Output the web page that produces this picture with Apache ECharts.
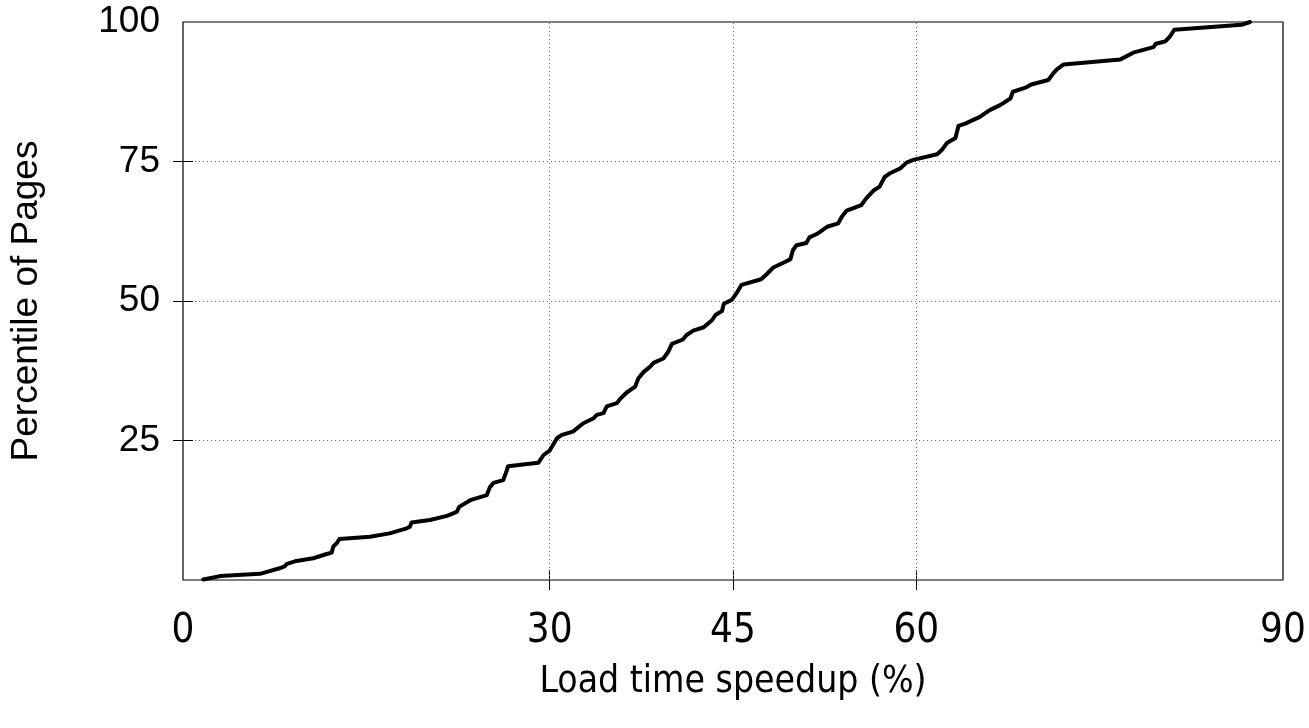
<!DOCTYPE html>
<html>
<head>
<meta charset="utf-8">
<script src="https://cdn.jsdelivr.net/npm/echarts@6/dist/echarts.min.js"></script>
<style>
html,body{margin:0;padding:0;background:#fff;}
#c{width:1309px;height:728px;}
</style>
</head>
<body>
<div id="c"></div>
<script>
// Load time speedup (%) values of the CDF curve
const speedup = [1.66,3.03,6.3,7.9,8.35,8.5,9.16,10.66,11.76,12.16,12.3,12.58,12.8,15.3,16.9,18.3,18.57,18.7,20.2,21.6,22.4,22.6,23.5,24.85,25.1,25.4,26.2,26.5,26.6,29.07,29.5,30.0,30.6,31.0,31.9,32.75,33.6,33.85,34.4,34.67,35.5,35.75,36.3,37.0,37.25,37.7,38.2,38.5,39.3,39.7,40.0,40.9,41.2,41.75,42.6,43.3,43.56,44.1,44.25,44.9,45.35,45.7,47.3,47.75,48.3,49.25,49.7,49.9,50.2,51.0,51.25,51.85,52.7,53.6,53.9,54.3,55.5,55.9,56.5,57.0,57.4,57.85,58.7,59.2,59.75,61.7,62.1,62.5,63.2,63.45,64.0,65.2,66.0,66.85,67.7,67.9,69.0,69.4,70.8,71.2,71.5,72.05,76.7,77.75,79.4,79.6,80.35,80.75,81.1,86.6,87.3];
// Percentile of pages
const percentile = [0.1,0.7,1.1,2.1,2.5,2.9,3.35,3.9,4.66,4.9,6.0,6.6,7.35,7.76,8.36,9.26,9.56,10.3,10.75,11.5,12.2,13.1,14.3,15.2,16.6,17.4,17.9,19.7,20.4,21.0,22.4,23.2,25.4,26.0,26.6,28.1,29.0,29.6,29.9,31.1,31.7,32.4,33.6,34.65,36.1,37.3,38.2,38.9,39.7,40.9,42.3,43.1,43.9,44.7,45.3,46.6,47.5,48.2,49.5,50.2,51.6,52.9,53.9,54.8,56.0,57.0,57.5,59.1,60.0,60.4,61.4,62.0,63.3,63.9,65.1,66.2,67.2,68.4,69.8,70.5,72.2,72.9,73.8,74.8,75.3,76.3,77.1,78.3,79.2,81.4,81.8,83.0,84.2,85.1,86.3,87.5,88.3,88.8,89.6,90.8,91.5,92.4,93.3,94.5,95.5,96.1,96.5,97.4,98.6,99.5,100];
const xLabels = [0,30,45,60,90];
const xGrid = [30,45,60];
const yLabels = [25,50,75,100];
const yGrid = [25,50,75];

const data = speedup.map((v,i)=>[v, percentile[i]]);
const chart = echarts.init(document.getElementById('c'), null, {renderer:'canvas'});
const narrow = "'Liberation Sans Narrow','DejaVu Sans Condensed','Liberation Sans',sans-serif";
const sans = "'Liberation Sans',Arial,sans-serif";
const tickStyle = {color:'#000', width:1};
chart.setOption({
  animation:false,
  backgroundColor:'#fff',
  grid:{left:183, right:26, top:22, bottom:148, show:true, borderColor:'#000', borderWidth:1.2, backgroundColor:'transparent'},
  xAxis:[{
    type:'value', min:0, max:90, interval:15, position:'bottom',
    axisLine:{show:false},
    axisTick:{show:true, inside:true, length:10, customValues:xGrid, lineStyle:tickStyle},
    axisLabel:{customValues:xLabels, fontFamily:narrow, fontSize:40, color:'#000', margin:32},
    splitLine:{show:false},
    name:'Load time speedup (%)', nameLocation:'middle', nameGap:84,
    nameTextStyle:{fontFamily:narrow, fontSize:37, color:'#000'}
  },{
    type:'value', min:0, max:90, interval:15, position:'top',
    axisLine:{show:false},
    axisTick:{show:true, inside:true, length:10, customValues:xGrid, lineStyle:tickStyle},
    axisLabel:{show:false}, splitLine:{show:false}
  }],
  yAxis:[{
    type:'value', min:0, max:100, interval:25, position:'left',
    axisLine:{show:false},
    axisTick:{show:true, inside:true, length:10, customValues:yGrid, lineStyle:tickStyle},
    axisLabel:{customValues:yLabels, fontFamily:sans, fontSize:37, color:'#000', margin:23},
    splitLine:{show:true, lineStyle:{type:[1,3], color:'#666', width:1}},
    name:'Percentile of Pages', nameLocation:'middle', nameGap:138,
    nameTextStyle:{fontFamily:sans, fontSize:37, color:'#000'}
  },{
    type:'value', min:0, max:100, interval:25, position:'right',
    axisLine:{show:false},
    axisTick:{show:true, inside:true, length:10, customValues:yGrid, lineStyle:tickStyle},
    axisLabel:{show:false}, splitLine:{show:false}
  }],
  series:[{
    type:'line', data:data, showSymbol:false, symbol:'none',
    lineStyle:{color:'#000', width:4, join:'round', cap:'round'},
    z:5,
    markLine:{
      silent:true, symbol:'none', label:{show:false}, z:1,
      lineStyle:{type:[1,3], color:'#666', width:1},
      data: xGrid.map(v=>({xAxis:v}))
    }
  }]
});
</script>
</body>
</html>
